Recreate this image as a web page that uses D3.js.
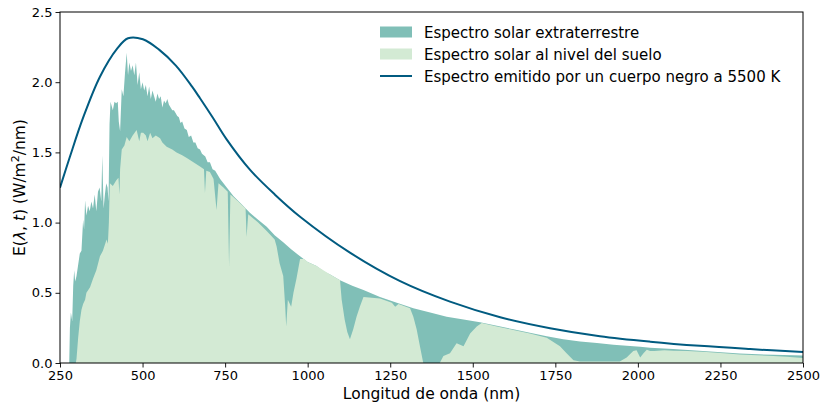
<!DOCTYPE html>
<html>
<head>
<meta charset="utf-8">
<script src="https://cdn.jsdelivr.net/npm/d3@7"></script>
<style>
  body { margin: 0; background: #fff; }
  svg { font-family: "DejaVu Sans", sans-serif; }
</style>
</head>
<body>
<svg id="chart"></svg>
<script>
// extraterrestrial spectrum (nm, W/m2/nm)
const etNm = [278,280,283,287,290,293,296,300,305,310,315,320,323,326,330,335,340,345,350,355,360,365,370,375,378,382,386,390,394,397,400,403,410,415,420,425,428,432,437,442,447,452,456,460,465,470,475,480,485,490,495,500,505,510,515,520,525,530,535,540,545,550,555,560,565,570,575,580,585,590,595,600,605,610,615,620,627,634,640,647,654,660,667,674,680,690,697,704,712,720,735,755,775,800,825,850,876,900,926,950,977,1000,1027,1050,1068,1098,1135,1169,1219,1270,1320,1371,1421,1472,1522,1573,1623,1673,1724,1774,1825,1876,1926,1966,2007,2037,2107,2208,2309,2410,2500];
const etVal = [0,0.25,0.36,0.30,0.55,0.66,0.58,0.62,0.70,0.78,0.80,1.02,0.95,1.16,1.05,1.12,1.08,1.15,1.10,1.20,1.08,1.22,1.25,1.15,1.48,1.10,1.20,1.28,1.25,1.15,1.70,1.86,1.80,1.86,1.85,1.86,1.72,1.65,1.95,1.90,2.07,2.21,2.05,2.14,2.08,2.12,2.05,2.14,1.98,2.07,1.95,2.00,1.94,1.98,1.90,1.97,1.88,1.94,1.90,1.86,1.92,1.88,1.90,1.82,1.87,1.85,1.88,1.84,1.82,1.80,1.80,1.78,1.76,1.75,1.71,1.72,1.67,1.66,1.61,1.62,1.57,1.57,1.53,1.52,1.49,1.47,1.43,1.43,1.38,1.37,1.31,1.25,1.19,1.13,1.07,1.02,0.97,0.91,0.86,0.81,0.76,0.72,0.69,0.65,0.63,0.59,0.55,0.52,0.47,0.43,0.39,0.36,0.33,0.31,0.29,0.265,0.24,0.215,0.19,0.17,0.154,0.142,0.13,0.122,0.116,0.108,0.10,0.083,0.067,0.058,0.054];

// ground level spectrum
const groundNm = [298,300,305,310,315,320,326,330,341,350,360,371,380,391,395,398,401,410,420,427,430,432,437,445,452,460,470,482,490,495,502,510,515,523,530,540,553,560,573,590,603,620,634,654,674,686,689,693,704,715,724,730,745,758,762,766,790,812,815,820,850,876,900,906,915,926,932,935,940,950,957,966,977,990,1000,1027,1068,1098,1103,1112,1120,1128,1138,1148,1158,1169,1219,1255,1265,1275,1310,1320,1330,1340,1350,1400,1411,1431,1451,1472,1492,1512,1527,1573,1623,1673,1724,1744,1764,1784,1805,1825,1900,1945,1966,1986,1996,2007,2017,2027,2037,2050,2080,2107,2150,2208,2260,2309,2360,2410,2450,2490,2500];
const groundVal = [0,0.03,0.18,0.30,0.38,0.42,0.45,0.50,0.54,0.60,0.66,0.76,0.80,0.88,0.85,1.00,1.28,1.26,1.30,1.32,1.20,1.38,1.52,1.55,1.61,1.58,1.62,1.66,1.58,1.64,1.64,1.62,1.58,1.64,1.60,1.62,1.60,1.57,1.54,1.52,1.50,1.48,1.46,1.43,1.40,1.38,1.21,1.37,1.36,1.31,1.09,1.28,1.25,1.22,0.69,1.20,1.15,1.10,0.90,1.06,1.00,0.94,0.88,0.83,0.71,0.62,0.40,0.26,0.45,0.40,0.50,0.60,0.74,0.74,0.72,0.69,0.63,0.59,0.45,0.31,0.22,0.17,0.24,0.33,0.40,0.47,0.46,0.43,0.40,0.42,0.39,0.33,0.24,0.12,0,0,0.05,0.07,0.14,0.12,0.21,0.26,0.285,0.26,0.235,0.21,0.18,0.15,0.12,0.07,0.02,0.01,0.01,0.01,0.04,0.085,0.09,0.04,0.07,0.095,0.085,0.085,0.09,0.088,0.085,0.078,0.07,0.06,0.055,0.05,0.045,0.038,0.036];

// black body curve
const bbNm = [250,280,320,371,423,456,501,550,601,650,674,713,753,825,901,977,1128,1280,1431,1583,1734,1885,2037,2188,2340,2500];
const bbVal = [1.249,1.469,1.747,2.039,2.239,2.313,2.306,2.232,2.118,1.968,1.886,1.747,1.598,1.377,1.199,1.042,0.786,0.583,0.437,0.326,0.248,0.191,0.152,0.122,0.099,0.078];

const xTicks = [250,500,750,1000,1250,1500,1750,2000,2250,2500];
const yTicks = [0,0.5,1.0,1.5,2.0,2.5];

const legendItems = [
  { label: "Espectro solar extraterrestre", type: "patch", color: "#80bfb7" },
  { label: "Espectro solar al nivel del suelo", type: "patch", color: "#d3ead4" },
  { label: "Espectro emitido por un cuerpo negro a 5500 K", type: "line", color: "#015b80" }
];

const W = 822, H = 407;
const margin = { top: 12, right: 19, bottom: 44, left: 60 },
    width = W - margin.left - margin.right,
    height = H - margin.top - margin.bottom;

const root = d3.select("#chart").attr("width", W).attr("height", H);
const svg = root.append("g").attr("transform", `translate(${margin.left},${margin.top})`);

const x = d3.scaleLinear().domain([250, 2500]).range([0, width]);
const y = d3.scaleLinear().domain([0, 2.5]).range([height, 0]);

svg.append("clipPath").attr("id", "clip")
  .append("rect").attr("width", width).attr("height", height);

const plot = svg.append("g").attr("clip-path", "url(#clip)");

const area = d3.area()
  .x(d => x(d[0]))
  .y0(y(0))
  .y1(d => y(d[1]));

const etData = etNm.map((n, i) => [n, etVal[i]]);
const groundData = groundNm.map((n, i) => [n, groundVal[i]]);
const bbData = bbNm.map((n, i) => [n, bbVal[i]]);

plot.append("path").datum(etData)
  .attr("d", area).attr("fill", legendItems[0].color);

plot.append("path").datum(groundData)
  .attr("d", area).attr("fill", legendItems[1].color);

// black body line on top
plot.append("path").datum(bbData)
  .attr("d", d3.line().x(d => x(d[0])).y(d => y(d[1])).curve(d3.curveCatmullRom.alpha(0.5)))
  .attr("fill", "none")
  .attr("stroke", legendItems[2].color)
  .attr("stroke-width", 2);

// axes
const xAxis = svg.append("g")
  .attr("transform", `translate(0,${height})`)
  .call(d3.axisBottom(x).tickValues(xTicks).tickSize(4.5).tickPadding(3).tickFormat(d3.format("d")));
const yAxis = svg.append("g")
  .call(d3.axisLeft(y).tickValues(yTicks).tickSize(4.5).tickPadding(3).tickFormat(d3.format(".1f")));

[xAxis, yAxis].forEach(a => {
  a.selectAll("text").attr("font-size", 13).attr("fill", "#000")
    .attr("font-family", "DejaVu Sans");
  a.selectAll("line").attr("stroke", "#000").attr("stroke-width", 0.9);
  a.select(".domain").remove();
});

// frame
svg.append("rect")
  .attr("width", width).attr("height", height)
  .attr("fill", "none").attr("stroke", "#000").attr("stroke-width", 1);

// labels
root.append("text")
  .attr("x", margin.left + width / 2).attr("y", 399)
  .attr("text-anchor", "middle").attr("font-size", 15.5)
  .text("Longitud de onda (nm)");

const yl = root.append("text")
  .attr("transform", `translate(25,${margin.top + height / 2}) rotate(-90)`)
  .attr("text-anchor", "middle").attr("font-size", 15.5);
yl.append("tspan").text("E(");
yl.append("tspan").attr("font-style", "italic").text("λ");
yl.append("tspan").text(", ");
yl.append("tspan").attr("font-style", "italic").text("t");
yl.append("tspan").text(") (W/m");
yl.append("tspan").attr("font-size", 11).attr("dy", -6).text("2");
yl.append("tspan").attr("dy", 6).text("/nm)");

// legend
const legend = root.append("g").attr("transform", "translate(380,32)");
legendItems.forEach((d, i) => {
  const g = legend.append("g").attr("transform", `translate(0,${i * 22})`);
  if (d.type === "patch") {
    g.append("rect").attr("x", 0).attr("y", -5.5).attr("width", 32).attr("height", 11).attr("fill", d.color);
  } else {
    g.append("line").attr("x1", 0).attr("x2", 32).attr("y1", 0).attr("y2", 0)
      .attr("stroke", d.color).attr("stroke-width", 2);
  }
  g.append("text").attr("x", 44).attr("y", 5.5).attr("font-size", 15).text(d.label);
});
</script>
</body>
</html>
